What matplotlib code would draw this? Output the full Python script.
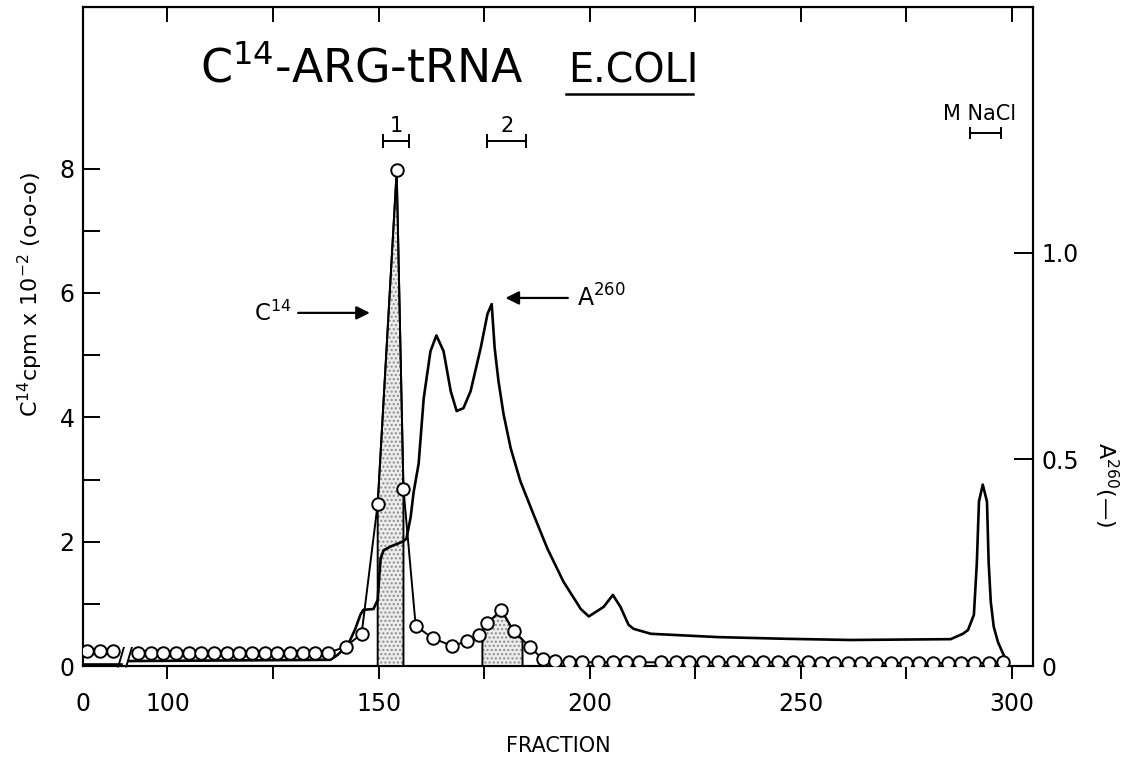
import numpy as np
import matplotlib
matplotlib.use('Agg')
import matplotlib.pyplot as plt

plt.rcParams['font.family'] = ['DejaVu Sans']
plt.rcParams['mathtext.default'] = 'regular'

# fractions before the axis break are drawn shifted by this offset
BREAK_OFFSET = 80

# C14 counts (cpm x 10^-2), left axis
c14_pre_frac = [1, 4, 7]
c14_pre = [0.24, 0.24, 0.24]
c14_frac = [93, 96, 99, 102, 105, 108, 111, 114, 117, 120, 123, 126, 129, 132, 135, 138,
            142.2, 146, 149.8, 154.3, 155.9, 158.8, 162.8, 167.5, 170.9, 173.7, 175.8,
            179.1, 182, 185.8, 188.9, 191.9, 195, 198.3, 201.9, 205.5, 208.5, 211.6,
            216.8, 220.4, 223.5, 226.8, 230.3, 233.9, 237.4, 241, 244.5, 248.1, 251.7,
            254.7, 257.8, 261.1, 264.2, 267.8, 271.3, 274.9, 277.9, 281.3, 284.8, 287.9,
            291, 294.5, 297.9]
c14_cpm = [0.21, 0.21, 0.21, 0.21, 0.21, 0.21, 0.21, 0.21, 0.21, 0.21, 0.21, 0.21, 0.21, 0.21, 0.21, 0.21,
           0.31, 0.52, 2.61, 7.97, 2.85, 0.645, 0.45, 0.32, 0.40, 0.50, 0.69,
           0.90, 0.56, 0.31, 0.11, 0.08, 0.07, 0.06, 0.06, 0.06, 0.06, 0.06,
           0.06, 0.06, 0.06, 0.06, 0.06, 0.06, 0.06, 0.06, 0.06, 0.06, 0.06,
           0.05, 0.05, 0.05, 0.05, 0.05, 0.05, 0.05, 0.05, 0.05, 0.05, 0.05,
           0.05, 0.05, 0.07]

# absorbance at 260 nm, right axis
a260_pre_frac = [0, 9]
a260_pre = [0.004, 0.004]
a260_frac = [91, 138.6, 140.3, 142.7, 144.5, 145.7, 146.4, 148.8, 149.8, 150.2, 150.5,
             151.2, 152.8, 155.7, 156.6, 157.6, 158.3, 159.5, 160.7, 162.3, 163.7, 165.4,
             167.1, 168.5, 170.1, 171.8, 174.2, 175.8, 176.8, 177.5, 178.4, 179.6, 181.3,
             183.6, 186.7, 190, 193.8, 197.9, 199.8, 203.3, 205.5, 207.3, 209.2, 210.4,
             214.5, 230.3, 246, 261.8, 285.5, 288.4, 289.6, 291, 291.7, 292.2, 293.1,
             294.1, 294.5, 295, 295.7, 296.7, 297.9, 299.3]
a260 = [0.012, 0.015, 0.027, 0.05, 0.09, 0.124, 0.136, 0.138, 0.16, 0.22, 0.26,
        0.28, 0.289, 0.301, 0.308, 0.36, 0.42, 0.49, 0.648, 0.762, 0.80, 0.762,
        0.665, 0.617, 0.624, 0.665, 0.77, 0.852, 0.876, 0.77, 0.69, 0.61, 0.527,
        0.447, 0.367, 0.284, 0.204, 0.138, 0.12, 0.143, 0.172, 0.143, 0.10, 0.09,
        0.078, 0.07, 0.066, 0.063, 0.065, 0.078, 0.087, 0.124, 0.25, 0.398, 0.439,
        0.398, 0.25, 0.155, 0.095, 0.058, 0.03, 0.0]

# pooled regions (shaded) and their bracket labels
pools = [(149.8, 155.9), (174.6, 184.1)]
pool_labels = ['1', '2']
pool_brackets = [(151, 157.3), (175.8, 185)]
nacl_bracket = (290, 297.4)


def shift(frac):
    return [f + BREAK_OFFSET for f in frac]


fig = plt.figure(figsize=(11.46, 7.59), dpi=100)
ax2 = fig.add_axes([0.0724, 0.1225, 0.829, 0.8683])
ax = ax2.twinx()
ax.yaxis.tick_left()
ax.yaxis.set_label_position('left')
ax2.yaxis.tick_right()
ax2.yaxis.set_label_position('right')
ax.set_zorder(ax2.get_zorder() + 1)
ax.patch.set_visible(False)

ax.set_xlim(80, 305)
ax.set_ylim(0, 10.6)
ax2.set_ylim(0, 1.595)

# shaded pools under the C14 profile
cf = np.array(c14_frac)
cv = np.array(c14_cpm)
for lo, hi in pools:
    inner = (cf > lo) & (cf < hi)
    xs = np.concatenate([[lo], cf[inner], [hi]])
    ys = np.interp(xs, cf, cv)
    ax.fill_between(xs, 0, ys, facecolor='#ececec', edgecolor='#8c8c8c', hatch='....', lw=0, zorder=1)
    ax.fill_between(xs, 0, ys, facecolor='none', edgecolor='k', lw=1.4, zorder=2)

# A260 curve (right-axis units, drawn above the shading)
ax.plot(shift(a260_pre_frac), a260_pre, color='k', lw=1.9, transform=ax2.transData, zorder=2.5)
ax.plot(a260_frac, a260, color='k', lw=1.9, solid_joinstyle='round',
        transform=ax2.transData, zorder=2.5)

# C14 points
mk = dict(color='k', lw=1.4, marker='o', markersize=9, markerfacecolor='white',
          markeredgecolor='k', markeredgewidth=1.4, zorder=3)
ax.plot(shift(c14_pre_frac), c14_pre, **mk)
ax.plot(c14_frac, c14_cpm, **mk)

ax.set_xlim(80, 305)
ax.set_ylim(0, 10.6)
ax2.set_ylim(0, 1.595)

xt = [80, 100, 125, 150, 175, 200, 225, 250, 275, 300]
xl = ['0', '100', '', '150', '', '200', '', '250', '', '300']
ax2.set_xticks(xt)
ax2.set_xticklabels(xl, fontsize=17)
ax2.tick_params(axis='x', direction='out', length=9, width=1.4, pad=10)
ax2.xaxis.get_major_ticks()[0].tick1line.set_visible(False)

top = ax2.secondary_xaxis('top')
top.set_xticks(xt[1:])
top.tick_params(direction='in', length=11, width=1.4, labeltop=False)

ax.set_yticks(range(0, 9))
ax.set_yticklabels(['0', '', '2', '', '4', '', '6', '', '8'], fontsize=17)
ax.tick_params(axis='y', direction='in', length=12, width=1.4, pad=6)

ax2.set_yticks([0, 0.5, 1.0])
ax2.set_yticklabels(['0', '0.5', '1.0'], fontsize=17)
ax2.tick_params(axis='y', direction='in', length=14, width=1.4, pad=6)

for a in (ax, ax2):
    for s in a.spines.values():
        s.set_linewidth(1.5)

ax.set_ylabel('C$^{14}$cpm x 10$^{-2}$ (o-o-o)', fontsize=16)
ax.yaxis.set_label_coords(-0.04, 0.563)
ax2.set_ylabel('A$^{260}$(—)', fontsize=16, rotation=270, va='center')
ax2.yaxis.set_label_coords(1.077, 0.275)
ax2.set_xlabel('FRACTION', fontsize=15, labelpad=14)

# axis break marks
ax.text(90, 0.13, '//', fontsize=17, ha='center', va='center')

# title
ax.text(107.8, 9.39, 'C$^{14}$-ARG-tRNA', fontsize=33, ha='left', va='baseline')
ax.text(195, 9.39, 'E.COLI', fontsize=28.5, ha='left', va='baseline')
ax.plot([194.5, 224.4], [9.2, 9.2], color='k', lw=1.8, clip_on=False)

# pool brackets
for (b0, b1), lab in zip(pool_brackets, pool_labels):
    ax.errorbar((b0 + b1) / 2, 8.45, xerr=(b1 - b0) / 2, color='k', lw=1.4, capsize=5, capthick=1.4)
    ax.text((b0 + b1) / 2, 8.52, lab, fontsize=15, ha='center', va='bottom')
ax.errorbar(sum(nacl_bracket) / 2, 8.58, xerr=(nacl_bracket[1] - nacl_bracket[0]) / 2,
            color='k', lw=1.4, capsize=4, capthick=1.4)
ax.text(292.3, 8.72, 'M NaCl', fontsize=15, ha='center', va='bottom')

# curve labels
arrow = dict(arrowstyle='-|>', color='k', lw=1.6, mutation_scale=20)
ax.annotate('', xy=(148.6, 5.68), xytext=(130.3, 5.68), arrowprops=arrow)
ax.text(129.5, 5.68, 'C$^{14}$', fontsize=16.5, ha='right', va='center')
ax.annotate('', xy=(179.4, 5.92), xytext=(195.5, 5.92), arrowprops=arrow)
ax.text(197, 5.92, 'A$^{260}$', fontsize=17, ha='left', va='center')

fig.savefig('out.png', dpi=100)
